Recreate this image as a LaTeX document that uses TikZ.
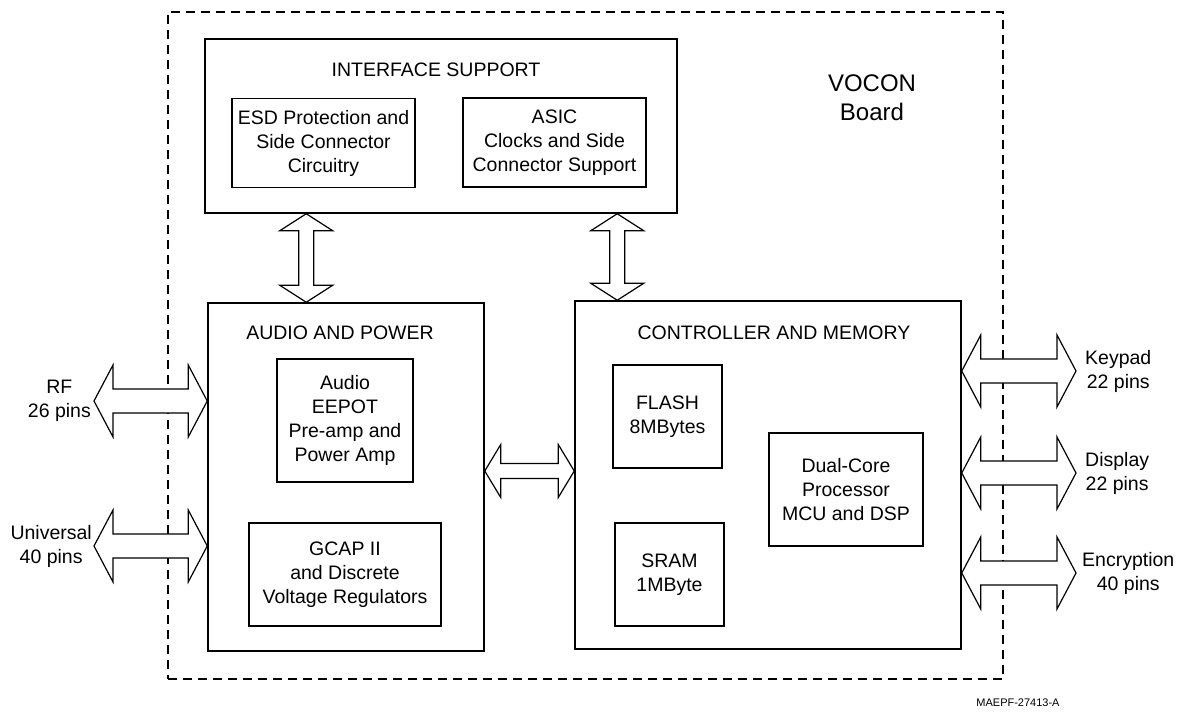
\documentclass[tikz,border=0pt]{standalone}
\usepackage{fontspec}
\setmainfont{Liberation Sans}
\usetikzlibrary{positioning,calc}
\tikzset{>=stealth}

\tikzset{
  block/.style={draw, line width=1.5pt, align=center, inner sep=0pt,
    font=\fontsize{19.5pt}{24pt}\selectfont},
  boxtitle/.style={inner sep=0pt, font=\fontsize{19.5pt}{24pt}\selectfont},
  pinlabel/.style={align=center, inner sep=0pt, font=\fontsize{19.5pt}{24pt}\selectfont},
  boardlabel/.style={align=center, inner sep=0pt, font=\fontsize{24pt}{29pt}\selectfont},
  board/.style={draw, dash pattern=on 9pt off 6pt, line width=1.3pt, inner sep=0pt},
  fatarrow/.style={draw, line width=1.2pt, fill=white, line join=miter},
}

% hollow double arrows: tip, tip, head half width, shaft half width, head length
\newcommand{\dblharrow}[5]{%
  \draw[fatarrow] (#1) -- ++(#5,#3) -- ++(0,#4-#3) -- ($(#2)+(-#5,#4)$) -- ++(0,#3-#4)
    -- (#2) -- ++(-#5,-#3) -- ++(0,#3-#4) -- ($(#1)+(#5,-#4)$) -- ++(0,#4-#3) -- cycle;}
\newcommand{\dblvarrow}[5]{%
  \draw[fatarrow] (#1) -- ++(#3,#5) -- ++(#4-#3,0) -- ($(#2)+(#4,-#5)$) -- ++(#3-#4,0)
    -- (#2) -- ++(-#3,-#5) -- ++(#3-#4,0) -- ($(#1)+(-#4,#5)$) -- ++(#4-#3,0) -- cycle;}

\begin{document}
\begin{tikzpicture}[x=1pt, y=-1pt]
  \useasboundingbox (0,0) rectangle (1181,719);

  % board
  \node[board, minimum width=835pt, minimum height=667pt] (board) at (585.5,345.5) {};
  \node[boardlabel] (vocon) at (872,98) {VOCON\\Board};

  % interface support
  \node[block, minimum width=472pt, minimum height=174pt] (iface) at (441,126) {};
  \node[boxtitle] (ifacetitle) at (436,70) {INTERFACE SUPPORT};
  \node[block, minimum width=183pt, minimum height=89pt] (esd) at (323.5,143)
    {ESD Protection and\\Side Connector\\Circuitry};
  \node[block, minimum width=183pt, minimum height=89pt] (asic) at (554.5,142.5)
    {ASIC\\Clocks and Side\\Connector Support};

  % audio and power
  \node[block, minimum width=276pt, minimum height=348pt] (audio) at (346,477) {};
  \node[boxtitle] (audiotitle) at (340,333) {AUDIO AND POWER};
  \node[block, minimum width=136pt, minimum height=123pt] (eepot) at (345,420.5)
    {Audio\\EEPOT\\Pre-amp and\\Power Amp};
  \node[block, minimum width=192pt, minimum height=103pt] (gcap) at (345,574.5)
    {GCAP II\\and Discrete\\Voltage Regulators};

  % controller and memory
  \node[block, minimum width=386pt, minimum height=348pt] (ctrl) at (768,475) {};
  \node[boxtitle] (ctrltitle) at (774,333) {CONTROLLER AND MEMORY};
  \node[block, minimum width=109pt, minimum height=103pt] (flash) at (667.5,416.5)
    {FLASH\\8MBytes};
  \node[block, minimum width=109pt, minimum height=103pt] (sram) at (669.5,574.5)
    {SRAM\\1MByte};
  \node[block, minimum width=154pt, minimum height=113pt] (dsp) at (846,489.5)
    {Dual-Core\\Processor\\MCU and DSP};

  % inner buses
  \path (audio.north west) ++(99,0) coordinate (busAbot);
  \coordinate (busAtop) at (busAbot |- iface.south);
  \path (ctrl.north west) ++(43,0) coordinate (busBbot);
  \coordinate (busBtop) at (busBbot |- iface.south);
  \path (audio.east) ++(0,-6) coordinate (midL);
  \coordinate (midR) at (midL -| ctrl.west);
  \dblvarrow{busAtop}{busAbot}{26.5}{7.5}{17}
  \dblvarrow{busBtop}{busBbot}{26.5}{7.5}{17}
  \dblharrow{midL}{midR}{26.5}{7.5}{16}

  % radio side
  \coordinate (rfL) at (94,401);
  \coordinate (rfR) at (rfL -| audio.west);
  \coordinate (uniL) at (94,546);
  \coordinate (uniR) at (uniL -| audio.west);
  \node[pinlabel, left=3pt of rfL] (rf) {RF\\26 pins};
  \node[pinlabel, left=2pt of uniL] (uni) {Universal\\40 pins};
  \dblharrow{rfL}{rfR}{36}{12}{19}
  \dblharrow{uniL}{uniR}{36}{12}{19}

  % front side
  \coordinate (keyR) at (1076,371);
  \coordinate (keyL) at (keyR -| ctrl.east);
  \coordinate (dispR) at (1076,473);
  \coordinate (dispL) at (dispR -| ctrl.east);
  \coordinate (encR) at (1076,573);
  \coordinate (encL) at (encR -| ctrl.east);
  \node[pinlabel, right=9pt of keyR] (keypad) {Keypad\\22 pins};
  \node[pinlabel, right=9pt of dispR] (display) {Display\\22 pins};
  \node[pinlabel, right=6pt of encR] (encrypt) {Encryption\\40 pins};
  \dblharrow{keyL}{keyR}{36}{12}{19}
  \dblharrow{dispL}{dispR}{36}{12}{19}
  \dblharrow{encL}{encR}{36}{12}{19}

  \node[inner sep=0pt, font=\fontsize{11pt}{13pt}\selectfont] (figid) at (1018,703) {MAEPF-27413-A};
\end{tikzpicture}
\end{document}
